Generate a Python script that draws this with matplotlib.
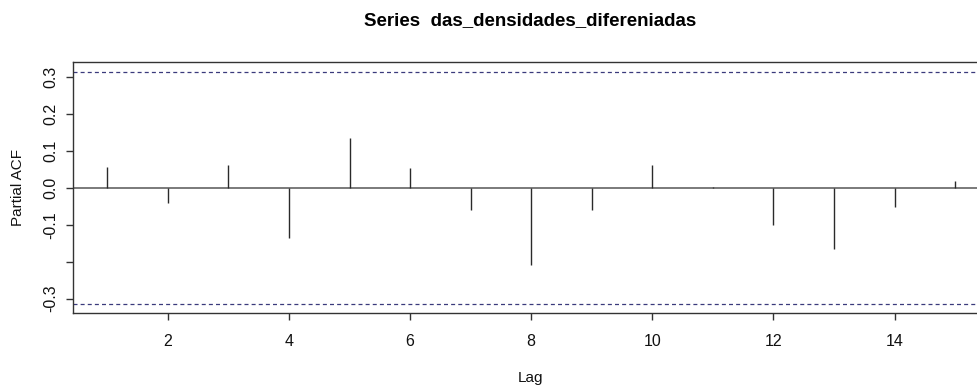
import numpy as np
import matplotlib
matplotlib.use("Agg")
import matplotlib.pyplot as plt

plt.rcParams['font.family'] = ['Liberation Sans', 'DejaVu Sans']

# partial autocorrelation
lags = [1, 2, 3, 4, 5, 6, 7, 8, 9, 10, 11, 12, 13, 14, 15]
pacf = [0.057, -0.042, 0.061, -0.137, 0.136, 0.054, -0.060, -0.209,
        -0.060, 0.061, 0.001, -0.101, -0.166, -0.051, 0.018]
conf = 0.314  # 95% band

title = "Series  das_densidades_difereniadas"
xticks = [2, 4, 6, 8, 10, 12, 14]
yticks = [-0.3, -0.2, -0.1, 0.0, 0.1, 0.2, 0.3]
ytick_labels = ["-0.3", "", "-0.1", "0.0", "0.1", "0.2", "0.3"]

fig = plt.figure(figsize=(9.78, 3.87), dpi=100)
# box runs slightly past the right edge, like the cropped original
ax = fig.add_axes([0.075, 0.1904, 0.9363, 0.6486])

ax.axhline(0, color="#7a7a7a", lw=1.4, zorder=1)
ax.vlines(lags, 0, pacf, color="#2a2a2a", lw=1.0, zorder=2)
for c in (conf, -conf):
    ax.axhline(c, color="#3a3a7c", lw=0.9, dashes=(3.2, 2.5))

ax.set_xlim(0.44, 15.56)
ax.set_ylim(-0.3396, 0.3396)
ax.set_xticks(xticks)
ax.set_yticks(yticks)
ax.set_yticklabels(ytick_labels, rotation=90, va="center")

for s in ax.spines.values():
    s.set_color("#333333")
    s.set_linewidth(1.0)
ax.tick_params(colors="#333333", length=5, width=1.0, labelsize=11.5, labelcolor="#111111")
ax.tick_params(axis="x", pad=10)
ax.tick_params(axis="y", pad=6)

ax.set_xlabel("Lag", fontsize=11, color="#111111", va="center")
ax.xaxis.set_label_coords((530 - 73.3) / 915.7, (313.3 - 378) / 251)
ax.set_ylabel("Partial ACF", fontsize=11, color="#111111", va="center")
ax.yaxis.set_label_coords((18 - 73.3) / 915.7, 0.5)

fig.text(530 / 978, 1 - 20.7 / 387, title, ha="center", va="center",
         fontsize=13.5, fontweight="bold")

fig.savefig("out.png", dpi=100, facecolor="white")
